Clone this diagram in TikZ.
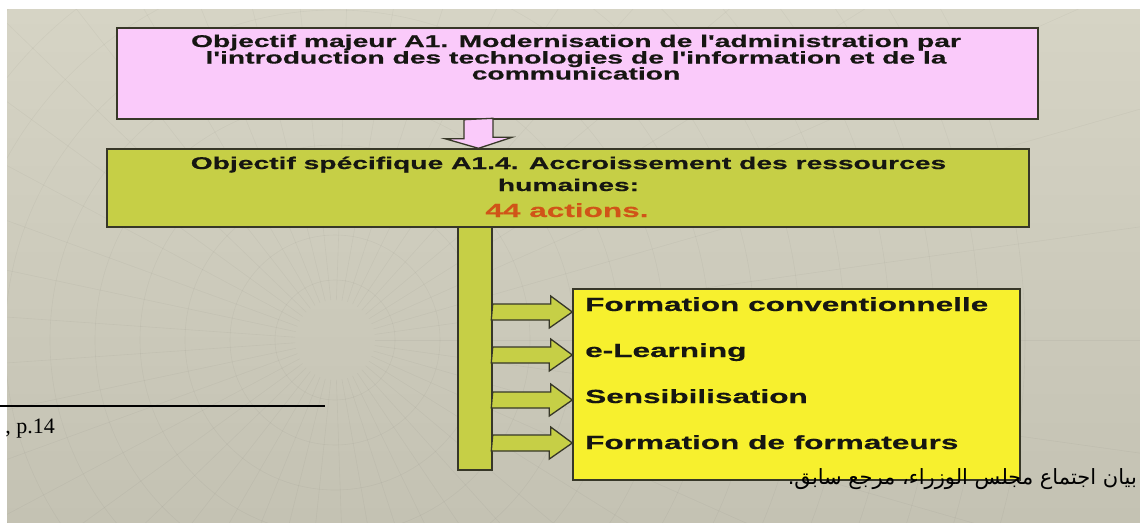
\documentclass[tikz,border=0pt]{standalone}
\usepackage{fontspec}
\usetikzlibrary{calc}
\TeXXeTstate=1
\newfontfamily\boxfont[FakeStretch=1.66, BoldFeatures={FakeBold=0.6}]{Liberation Sans}
\newfontfamily\notefont{Liberation Serif}
\newfontfamily\arabicfont[Script=Arabic]{DejaVu Sans}

\definecolor{bgTop}{RGB}{214,212,197}
\definecolor{bgBot}{RGB}{196,194,179}
\definecolor{pinkA}{RGB}{250,202,250}
\definecolor{greenA}{RGB}{198,207,70}
\definecolor{yellowA}{RGB}{247,240,46}
\definecolor{edge}{RGB}{55,55,40}
\definecolor{ink}{RGB}{22,22,18}
\definecolor{actionred}{RGB}{208,84,24}

\tikzset{
  panel/.style={draw=edge, line width=1.4pt, inner sep=0pt},
  web/.style={draw=black, opacity=0.035, line width=0.6pt},
  pointer/.style={draw=edge, line width=1.3pt, line join=miter},
  headline/.style={font=\boxfont\bfseries\fontsize{17}{17}\selectfont, text=ink, anchor=base, inner sep=0pt},
  item/.style={font=\boxfont\bfseries\fontsize{19}{19}\selectfont, text=ink, anchor=base west, inner sep=0pt},
}

\begin{document}
\begin{tikzpicture}[x=1pt, y=-1pt]
\useasboundingbox (0,0) rectangle (1140,522);
\fill[white] (0,0) rectangle (1140,522);
\shade[top color=bgTop, bottom color=bgBot] (7,9) rectangle (1140,522);

% faint web texture of the slide background
\begin{scope}
  \clip (7,9) rectangle (1140,522);
  \foreach \a in {0,8,...,352} \draw[web] (335,340) ++(\a:40) -- ++(\a:800);
  \foreach \r in {60,105,...,700} \draw[web] (335,340) circle (\r pt);
\end{scope}

% boxes
\node[panel, fill=pinkA, minimum width=921pt, minimum height=91pt] (major) at (577.5,73.5) {};
\node[panel, fill=greenA, minimum width=922pt, minimum height=78pt] (spec) at (568,188) {};
\node[panel, fill=greenA, minimum width=34pt, minimum height=243pt] (trunk) at (475,348.5) {};
\node[panel, fill=yellowA, minimum width=447pt, minimum height=191pt] (acts) at (796.5,384.5) {};

% block arrow from the major objective down to the specific one
\coordinate (dn) at (478.5,0);
\draw[pointer, fill=pinkA] ($(major.south -| dn)+(-14.5,0)$) -- ++(0,19) -- ++(-19,0)
  -- (spec.north -| dn) -- ++(33.5,-11) -- ++(-19,0) -- ++(0,-19) -- cycle;

% block arrows from the trunk to the list of actions
\foreach \y [count=\i] in {312,355,400,443} {
  \coordinate (lvl\i) at (0,\y);
  \draw[pointer, fill=greenA] ($(trunk.east |- lvl\i)+(0,-8)$) -- ++(58,0) -- ++(0,-8)
    -- (acts.west |- lvl\i) -- ++(-23,16) -- ++(0,-8) -- ++(-58,0) -- cycle;
}

% texts
\node[headline] (m1) at (576,47) {Objectif majeur A1. Modernisation de l'administration par};
\node[headline] (m2) at (576,63.5) {l'introduction des technologies de l'information et de la};
\node[headline] (m3) at (576,79.5) {communication};

\node[headline] (s1) at (568.5,169) {Objectif spécifique A1.4. Accroissement des ressources};
\node[headline] (s2) at (568.5,191) {humaines:};
\node[headline, font=\boxfont\bfseries\fontsize{19}{19}\selectfont, text=actionred] (s3) at (567,217) {44 actions.};

\node[item] (i1) at (585,311) {Formation conventionnelle};
\node[item] (i2) at (585,357) {e-Learning};
\node[item] (i3) at (585,403) {Sensibilisation};
\node[item] (i4) at (585,449) {Formation de formateurs};

% footnote area
\coordinate (r0) at (0,406);
\coordinate (r1) at (325,406);
\draw[line width=1.6pt, black] (r0) -- (r1);
\node[anchor=base east, inner sep=0pt, font=\notefont\fontsize{22}{22}\selectfont] (pg) at (55,433) {, p.14};
\node[anchor=base east, inner sep=0pt, font=\arabicfont\fontsize{21}{21}\selectfont] (src) at (1137,484)
  {\beginR بيان اجتماع مجلس الوزراء، مرجع سابق.\endR};
\end{tikzpicture}
\end{document}
